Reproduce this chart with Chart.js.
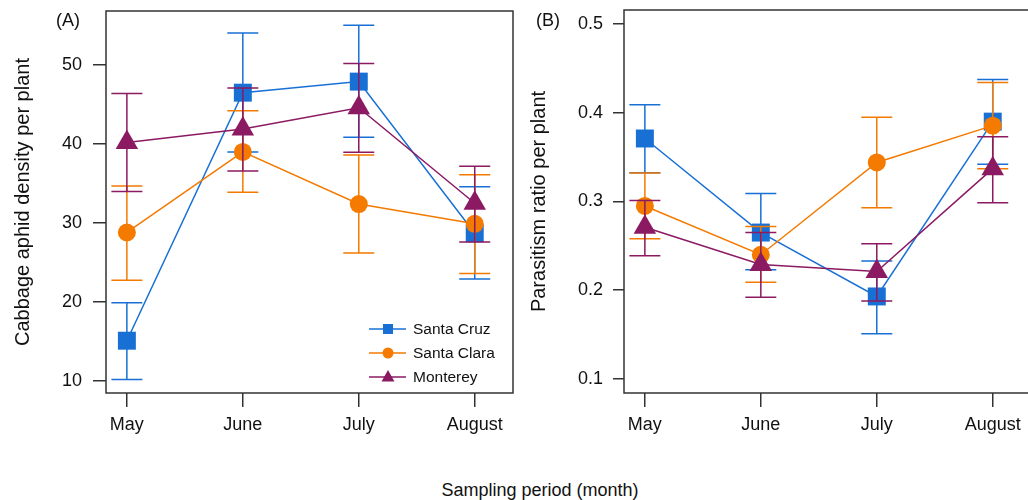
<!DOCTYPE html>
<html>
<head>
<meta charset="utf-8">
<script src="https://cdn.jsdelivr.net/npm/chart.js@4.4.0/dist/chart.umd.min.js"></script>
<style>
  body { margin: 0; background: #fff; overflow: hidden; width: 1028px; height: 500px; position: relative;
         font-family: "Liberation Sans", Arial, sans-serif; }
  canvas { position: absolute; top: 0; }
  #chartA { left: 0; }
  #chartB { left: 520px; }
  #xTitle { position: absolute; left: 0; width: 1080px; top: 480px; line-height: 20px;
            text-align: center; font-size: 18px; color: #111; }
</style>
</head>
<body>
<canvas id="chartA" width="520" height="460"></canvas>
<canvas id="chartB" width="520" height="460"></canvas>
<div id="xTitle">Sampling period (month)</div>

<script>
// data
const months = ['May', 'June', 'July', 'August'];
const sites = ['Santa Cruz', 'Santa Clara', 'Monterey'];

// (A) cabbage aphid density per plant
const aphidTicks = [10, 20, 30, 40, 50];
const aphidCruz = [15.1, 46.5, 47.9, 28.7];
const aphidCruzLow = [10.2, 39.0, 40.85, 22.9];
const aphidCruzHigh = [19.9, 54.05, 55.05, 34.6];
const aphidClara = [28.8, 39.0, 32.4, 29.9];
const aphidClaraLow = [22.75, 33.9, 26.2, 23.6];
const aphidClaraHigh = [34.7, 44.2, 38.6, 36.1];
const aphidMonterey = [40.2, 41.9, 44.6, 32.5];
const aphidMontereyLow = [34.0, 36.6, 38.95, 27.6];
const aphidMontereyHigh = [46.4, 47.1, 50.2, 37.2];

// (B) parasitism ratio per plant
const paraTicks = [0.1, 0.2, 0.3, 0.4, 0.5];
const paraCruz = [0.371, 0.265, 0.193, 0.390];
const paraCruzLow = [0.3325, 0.223, 0.151, 0.342];
const paraCruzHigh = [0.409, 0.309, 0.233, 0.4376];
const paraClara = [0.295, 0.240, 0.344, 0.3855];
const paraClaraLow = [0.258, 0.209, 0.293, 0.337];
const paraClaraHigh = [0.332, 0.2717, 0.395, 0.434];
const paraMonterey = [0.271, 0.229, 0.221, 0.337];
const paraMontereyLow = [0.239, 0.192, 0.188, 0.2987];
const paraMontereyHigh = [0.301, 0.265, 0.2525, 0.373];

const colors = ['#1870D5', '#F47A00', '#8B1A62'];
const shapes = ['rect', 'circle', 'triangle'];
const radii = [12.7, 9, 13];

Chart.defaults.font.family = '"Liberation Sans", Arial, sans-serif';
Chart.defaults.color = '#111';

function points(vals) {
  return vals.map((v, i) => ({ x: i + 1, y: v }));
}

function makeDataset(i, vals, low, high) {
  return {
    label: sites[i],
    data: points(vals),
    low: low,
    high: high,
    borderColor: colors[i],
    backgroundColor: colors[i],
    borderWidth: 1.5,
    pointStyle: shapes[i],
    pointRadius: radii[i],
    pointHoverRadius: radii[i],
    pointBorderWidth: 0,
    tension: 0,
    order: 3 - i
  };
}

// no extra room for half labels, the frame sits where the layout says
function noPad(s) {
  s.paddingTop = 0; s.paddingBottom = 0; s.paddingLeft = 0; s.paddingRight = 0;
}

// error bars go under each series' own markers
const errorBars = {
  id: 'errorBars',
  beforeDatasetDraw(chart, args) {
    const ds = chart.data.datasets[args.index];
    const y = chart.scales.y;
    const ctx = chart.ctx;
    ctx.save();
    ctx.strokeStyle = ds.borderColor;
    ctx.lineWidth = 1.5;
    args.meta.data.forEach((pt, i) => {
      const y1 = y.getPixelForValue(ds.low[i]);
      const y2 = y.getPixelForValue(ds.high[i]);
      ctx.beginPath();
      ctx.moveTo(pt.x, y1); ctx.lineTo(pt.x, y2);
      ctx.moveTo(pt.x - 15.5, y1); ctx.lineTo(pt.x + 15.5, y1);
      ctx.moveTo(pt.x - 15.5, y2); ctx.lineTo(pt.x + 15.5, y2);
      ctx.stroke();
    });
    ctx.restore();
  }
};

const frame = {
  id: 'frame',
  beforeDatasetsDraw(chart, args, opts) {
    const a = chart.chartArea;
    const ctx = chart.ctx;
    ctx.save();
    ctx.strokeStyle = '#333';
    ctx.lineWidth = 1.5;
    ctx.strokeRect(a.left, a.top, a.right - a.left, a.bottom - a.top);
    ctx.font = '18px "Liberation Sans", Arial, sans-serif';
    ctx.fillStyle = '#111';
    ctx.textBaseline = 'middle';
    ctx.fillText(opts.tag, opts.tagX, opts.tagY);
    ctx.restore();
  }
};

function marker(ctx, style, x, y) {
  ctx.beginPath();
  if (style === 'rect') {
    ctx.rect(x - 5, y - 5, 10, 10);
  } else if (style === 'circle') {
    ctx.arc(x, y, 5.5, 0, Math.PI * 2);
  } else {
    ctx.moveTo(x, y - 7); ctx.lineTo(x + 6.5, y + 4.5); ctx.lineTo(x - 6.5, y + 4.5);
    ctx.closePath();
  }
  ctx.fill();
}

const siteLegend = {
  id: 'siteLegend',
  afterDraw(chart, args, opts) {
    if (!opts.show) return;
    const ctx = chart.ctx;
    ctx.save();
    ctx.font = '15.5px "Liberation Sans", Arial, sans-serif';
    ctx.textBaseline = 'middle';
    chart.data.datasets.forEach((ds, i) => {
      const y = opts.y + i * 24;
      ctx.strokeStyle = ds.borderColor;
      ctx.fillStyle = ds.borderColor;
      ctx.lineWidth = 1.5;
      ctx.beginPath();
      ctx.moveTo(opts.x, y); ctx.lineTo(opts.x + 37, y);
      ctx.stroke();
      marker(ctx, ds.pointStyle, opts.x + 19, y);
      ctx.fillStyle = '#111';
      ctx.fillText(ds.label, opts.x + 44, y + 1);
    });
    ctx.restore();
  }
};

function makeChart(id, p) {
  return new Chart(document.getElementById(id), {
    type: 'line',
    data: { datasets: p.datasets },
    options: {
      responsive: false,
      animation: false,
      events: [],
      layout: { autoPadding: false, padding: { top: p.top, right: p.right, left: 0, bottom: 0 } },
      plugins: {
        legend: { display: false },
        tooltip: { enabled: false },
        frame: { tag: p.tag, tagX: p.tagX, tagY: 21 },
        siteLegend: { show: p.legend, x: 369, y: 329 }
      },
      scales: {
        x: {
          type: 'linear',
          min: 0.82, max: 4.33,
          afterBuildTicks: s => { s.ticks = months.map((m, i) => ({ value: i + 1 })); },
          afterFit: s => { s.height = 67; noPad(s); },
          ticks: { callback: v => months[v - 1] || '', font: { size: 18 }, padding: 7, maxRotation: 0 },
          grid: { drawOnChartArea: false, tickLength: 14, color: '#333', lineWidth: 1.5 },
          border: { display: false }
        },
        y: {
          min: p.yMin, max: p.yMax,
          afterBuildTicks: s => { s.ticks = p.yTicks.map(v => ({ value: v })); },
          afterFit: s => { s.width = p.yWidth; noPad(s); },
          ticks: { callback: p.fmt, font: { size: 18 }, padding: p.labelPad },
          grid: { drawOnChartArea: false, tickLength: p.tickLen, color: '#333', lineWidth: 1.5 },
          border: { display: false },
          title: { display: true, text: p.yTitle, font: { size: 20 }, padding: { top: p.titlePad, bottom: 0 } }
        }
      }
    },
    plugins: [errorBars, frame, siteLegend]
  });
}

makeChart('chartA', {
  datasets: [
    makeDataset(0, aphidCruz, aphidCruzLow, aphidCruzHigh),
    makeDataset(1, aphidClara, aphidClaraLow, aphidClaraHigh),
    makeDataset(2, aphidMonterey, aphidMontereyLow, aphidMontereyHigh)
  ],
  top: 11, right: 7, yWidth: 106, tickLen: 13, labelPad: 11, titlePad: 11,
  yMin: 8.48, yMax: 56.84, yTicks: aphidTicks, fmt: v => String(v),
  yTitle: 'Cabbage aphid density per plant', tag: '(A)', tagX: 56, legend: true
});

makeChart('chartB', {
  datasets: [
    makeDataset(0, paraCruz, paraCruzLow, paraCruzHigh),
    makeDataset(1, paraClara, paraClaraLow, paraClaraHigh),
    makeDataset(2, paraMonterey, paraMontereyLow, paraMontereyHigh)
  ],
  top: 10, right: 9, yWidth: 104, tickLen: 11, labelPad: 10, titlePad: 7,
  yMin: 0.0842, yMax: 0.5158, yTicks: paraTicks, fmt: v => v.toFixed(1),
  yTitle: 'Parasitism ratio per plant', tag: '(B)', tagX: 16, legend: false
});
</script>
</body>
</html>
